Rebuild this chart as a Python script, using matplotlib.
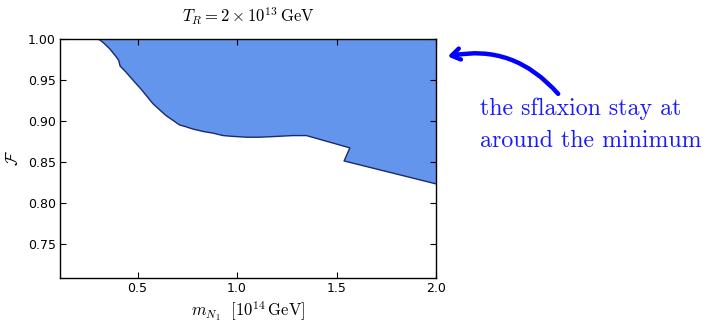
import matplotlib
matplotlib.use("Agg")
import matplotlib.pyplot as plt
from matplotlib.patches import FancyArrowPatch

plt.rcParams['mathtext.fontset'] = 'cm'
plt.rcParams['font.family'] = ['DejaVu Sans']

# boundary of the shaded region (F from boundary up to 1)
mN = [0.292, 0.31, 0.33, 0.36, 0.39, 0.405, 0.412, 0.44, 0.476, 0.52,
      0.577, 0.64, 0.711, 0.74, 0.778, 0.83, 0.879, 0.93, 0.98, 1.05,
      1.114, 1.2, 1.28, 1.349, 1.567, 1.538, 2.0]
F = [1.0, 0.999, 0.995, 0.988, 0.979, 0.974, 0.967, 0.960, 0.950, 0.938,
     0.921, 0.907, 0.895, 0.893, 0.890, 0.887, 0.885, 0.882, 0.881, 0.880,
     0.880, 0.881, 0.882, 0.882, 0.867, 0.851, 0.823]
xticks = [0.5, 1.0, 1.5, 2.0]
yticks = [0.75, 0.80, 0.85, 0.90, 0.95, 1.00]

fig = plt.figure(figsize=(7.09, 3.22), dpi=100)
ax = fig.add_axes([60/709, 44/322, 376/709, 239/322])

poly_x = mN + [2.0, mN[0]]
poly_y = F + [1.0, 1.0]
ax.fill(poly_x, poly_y, color='#6495ED', lw=0)
ax.plot(mN, F, color='#1a2a6c', lw=1.0)

ax.set_xlim(0.11, 2.0)
ax.set_ylim(0.708, 1.0)
ax.set_xticks(xticks)
ax.set_xticklabels([f"{v:.1f}" for v in xticks])
ax.set_yticks(yticks)
ax.set_yticklabels([f"{v:.2f}" for v in yticks])
ax.tick_params(direction='in', top=True, right=True, labelsize=9, length=4, pad=3)
for s in ax.spines.values():
    s.set_linewidth(1.0)

ax.set_title(r'$T_R = 2\times 10^{13}\,\mathrm{GeV}$', fontsize=12, pad=12)
ax.set_xlabel(r'$m_{N_1}\ \ [10^{14}\,\mathrm{GeV}]$', fontsize=12, labelpad=3)
ax.set_ylabel(r'$\mathcal{F}$', fontsize=12, labelpad=4)

fig.text(480/709, 1 - 115/322, 'the sflaxion stay at', fontname='cmr10',
         fontsize=17.2, color='#1a1aff', ha='left', va='baseline')
fig.text(480/709, 1 - 147/322, 'around the minimum', fontname='cmr10',
         fontsize=17.2, color='#1a1aff', ha='left', va='baseline')

arrow = FancyArrowPatch((560/709, 1 - 96/322), (445/709, 1 - 57/322),
                        transform=fig.transFigure,
                        connectionstyle='arc3,rad=0.3',
                        arrowstyle='->,head_length=6,head_width=4',
                        color='#0000ff', lw=3.2, mutation_scale=1)
fig.patches.append(arrow)

fig.savefig('out.png', dpi=100)
